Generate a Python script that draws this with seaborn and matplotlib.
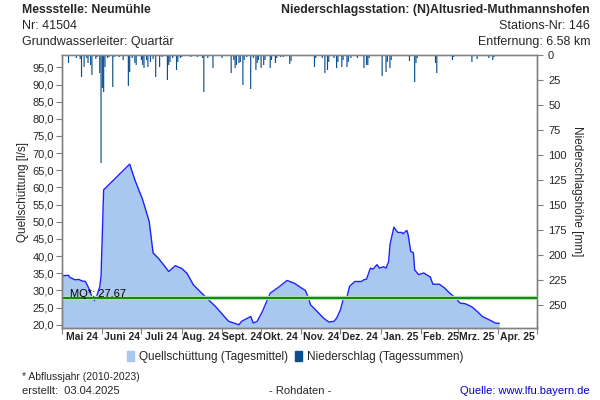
import matplotlib
matplotlib.use("Agg")
import matplotlib.pyplot as plt
import matplotlib.dates as mdates
from matplotlib.patches import Patch
import pandas as pd
import seaborn as sns

# Quellschüttung (Tagesmittel) [l/s]
flow_dates = [
    "2024-05-01", "2024-05-06", "2024-05-07", "2024-05-11", "2024-05-14", "2024-05-16",
    "2024-05-19", "2024-05-21", "2024-05-24", "2024-05-26", "2024-05-28", "2024-05-30",
    "2024-05-31", "2024-06-02", "2024-06-22", "2024-06-26", "2024-07-02", "2024-07-07",
    "2024-07-10", "2024-07-14", "2024-07-18", "2024-07-22", "2024-07-27", "2024-08-01",
    "2024-08-05", "2024-08-10", "2024-08-19", "2024-08-27", "2024-09-06", "2024-09-14",
    "2024-09-16", "2024-09-23", "2024-09-25", "2024-09-28", "2024-10-02", "2024-10-08",
    "2024-10-15", "2024-10-21", "2024-10-27", "2024-11-01", "2024-11-04", "2024-11-06",
    "2024-11-08", "2024-11-13", "2024-11-18", "2024-11-22", "2024-11-26", "2024-11-28",
    "2024-12-01", "2024-12-03", "2024-12-06", "2024-12-08", "2024-12-12", "2024-12-17",
    "2024-12-19", "2024-12-21", "2024-12-24", "2024-12-26", "2024-12-29", "2024-12-31",
    "2025-01-03", "2025-01-05", "2025-01-07", "2025-01-08", "2025-01-11", "2025-01-14",
    "2025-01-17", "2025-01-18", "2025-01-21", "2025-01-22", "2025-01-24", "2025-01-26",
    "2025-01-27", "2025-01-30", "2025-02-03", "2025-02-05", "2025-02-08", "2025-02-10",
    "2025-02-15", "2025-02-19", "2025-02-23", "2025-02-27", "2025-03-03", "2025-03-07",
    "2025-03-12", "2025-03-16", "2025-03-20", "2025-03-26", "2025-03-30", "2025-04-02",
]
flow_values = [
    34.3, 34.4, 33.8, 33.1, 33.2, 32.8,
    32.6, 31.1, 28.2, 27.0, 28.7, 31.1,
    34.1, 59.3, 66.8, 62.2, 56.4, 50.1,
    40.9, 39.4, 37.5, 35.5, 37.2, 36.4,
    35.0, 31.6, 28.2, 25.3, 21.0, 20.0,
    21.0, 22.4, 20.5, 21.0, 23.9, 29.2,
    31.1, 32.9, 32.0, 30.7, 30.0, 28.2,
    25.8, 23.9, 21.9, 20.8, 21.0, 21.9,
    24.4, 27.3, 28.2, 31.2, 32.6, 32.6,
    33.1, 33.3, 36.5, 36.2, 37.5, 36.5,
    36.9, 36.5, 38.4, 43.3, 48.4, 46.9,
    46.9, 46.5, 47.5, 46.2, 41.3, 41.0,
    36.0, 34.6, 35.1, 34.6, 33.9, 31.8,
    31.8, 30.7, 29.2, 27.9, 26.3, 26.1,
    25.2, 23.9, 22.4, 21.3, 20.5, 20.4,
]

# Niederschlag (Tagessummen) [mm]
rain_dates = [
    "2024-05-02", "2024-05-06", "2024-05-12", "2024-05-15", "2024-05-16", "2024-05-18",
    "2024-05-20", "2024-05-21", "2024-05-23", "2024-05-24", "2024-05-27", "2024-05-28",
    "2024-05-30", "2024-05-31", "2024-06-01", "2024-06-02", "2024-06-03", "2024-06-05",
    "2024-06-06", "2024-06-09", "2024-06-10", "2024-06-14", "2024-06-17", "2024-06-21",
    "2024-06-22", "2024-06-24", "2024-06-26", "2024-06-27", "2024-07-01", "2024-07-02",
    "2024-07-03", "2024-07-05", "2024-07-06", "2024-07-08", "2024-07-10", "2024-07-12",
    "2024-07-15", "2024-07-17", "2024-07-21", "2024-07-22", "2024-07-23", "2024-07-25",
    "2024-07-28", "2024-07-29", "2024-07-31", "2024-08-01", "2024-08-08", "2024-08-13",
    "2024-08-17", "2024-08-18", "2024-08-21", "2024-08-25", "2024-09-01", "2024-09-08",
    "2024-09-10", "2024-09-11", "2024-09-12", "2024-09-14", "2024-09-15", "2024-09-17",
    "2024-09-18", "2024-09-20", "2024-09-23", "2024-09-25", "2024-09-27", "2024-09-28",
    "2024-09-29", "2024-10-01", "2024-10-03", "2024-10-04", "2024-10-08", "2024-10-09",
    "2024-10-12", "2024-10-13", "2024-10-16", "2024-10-18", "2024-10-23", "2024-10-24",
    "2024-11-11", "2024-11-12", "2024-11-17", "2024-11-19", "2024-11-21", "2024-11-22",
    "2024-11-26", "2024-11-28", "2024-11-29", "2024-12-02", "2024-12-03", "2024-12-06",
    "2024-12-07", "2024-12-09", "2024-12-14", "2024-12-19", "2024-12-21", "2024-12-22",
    "2024-12-23", "2025-01-02", "2025-01-05", "2025-01-06", "2025-01-08", "2025-01-09",
    "2025-01-23", "2025-01-27", "2025-01-28", "2025-01-29", "2025-02-12", "2025-02-13",
    "2025-02-25", "2025-02-26", "2025-03-12", "2025-03-16", "2025-03-25", "2025-03-28",
    "2025-03-29",
]
rain_values = [
    1, 8, 3, 4, 22, 12,
    3, 8, 10, 20, 4, 2,
    18, 108, 33, 37, 12, 3,
    2, 32, 2, 2, 5, 31,
    17, 3, 8, 10, 5, 10,
    13, 5, 12, 7, 4, 22,
    12, 2, 25, 10, 7, 3,
    15, 7, 3, 2, 2, 2,
    3, 37, 3, 13, 3, 18,
    5, 13, 10, 8, 7, 30,
    5, 2, 34, 3, 15, 8,
    5, 13, 10, 5, 13, 5,
    8, 3, 2, 2, 9, 6,
    12, 3, 3, 18, 15, 7,
    3, 13, 7, 12, 5, 12,
    7, 3, 3, 13, 10, 10,
    3, 21, 17, 7, 13, 5,
    6, 27, 8, 3, 8, 18,
    5, 2, 7, 4, 3, 5,
    2,
]

month_labels = ["Mai 24", "Juni 24", "Juli 24", "Aug. 24", "Sept. 24", "Okt. 24",
                "Nov. 24", "Dez. 24", "Jan. 25", "Feb. 25", "Mrz. 25", "Apr. 25"]
mq_value = 27.67

flow = pd.DataFrame({"Datum": pd.to_datetime(flow_dates), "Q": flow_values})
rain = pd.DataFrame({"Datum": pd.to_datetime(rain_dates), "N": rain_values})

sns.set_theme(style="ticks")
plt.rcParams["font.family"] = ["Liberation Sans", "DejaVu Sans"]

fig = plt.figure(figsize=(6, 4), dpi=100)
ax = fig.add_axes([62 / 600, 72 / 400, 475 / 600, 273 / 400])

ax.fill_between(flow["Datum"], flow["Q"], 0, color="#a8c8f0", lw=0, zorder=1)
sns.lineplot(data=flow, x="Datum", y="Q", ax=ax, color="#2020ff", lw=1, zorder=2)
ax.axhline(mq_value, color="#b8e0b8", lw=3.2, zorder=3)
ax.axhline(mq_value, color="#138a13", lw=1.5, zorder=4)
ax.text(pd.Timestamp("2024-05-07"), mq_value + 0.5, "MQ*: 27.67", fontsize=8,
        color="black", zorder=5)

x0, x1 = pd.Timestamp("2024-05-01"), pd.Timestamp("2025-05-01")
ax.set_xlim(x0, x1)
ax.set_ylim(19.05, 98.6)
ax.set_yticks(range(20, 100, 5))
ax.set_yticklabels([f"{v:.1f}".replace(".", ",") for v in range(20, 100, 5)], fontsize=8)
ax.set_ylabel("Quellschüttung [l/s]", fontsize=8.5, labelpad=2)
ax.set_xlabel("")

ax.xaxis.set_major_locator(mdates.MonthLocator())
ax.xaxis.set_major_formatter(plt.NullFormatter())
mids = pd.date_range("2024-05-01", periods=12, freq="MS") + pd.Timedelta(days=15)
ax.set_xticks(mids, minor=True)
ax.set_xticklabels(month_labels, minor=True, fontsize=7.5, fontweight="bold")
ax.tick_params(axis="x", which="minor", length=0, pad=3)
ax.tick_params(axis="x", which="major", length=4, width=0.8, color="#808080")
ax.tick_params(axis="y", length=4, width=0.8, color="#808080", pad=2)

ax2 = ax.twinx()
ax2.bar(rain["Datum"], rain["N"], width=0.9, color="#0b4f8c", lw=0, snap=False)
ax2.set_ylim(273, 0)
ax2.set_yticks(range(0, 251, 25))
ax2.set_yticklabels([str(v) for v in range(0, 251, 25)], fontsize=8)
ax2.set_ylabel("Niederschlagshöhe [mm]", fontsize=8.5, rotation=270, labelpad=12)
ax2.tick_params(axis="y", length=4, width=0.8, color="#808080", pad=4)
ax2.set_xlim(x0, x1)

for a in (ax, ax2):
    for s in a.spines.values():
        s.set_color("#808080")
        s.set_linewidth(1)
ax.spines["top"].set_color("#b0b0b0")

# Kopfzeilen
fig.text(22 / 600, 1 - 10 / 400, "Messstelle: Neumühle", fontsize=8.8, fontweight="bold", va="center")
fig.text(22 / 600, 1 - 26 / 400, "Nr: 41504", fontsize=9, va="center")
fig.text(22 / 600, 1 - 42 / 400, "Grundwasserleiter: Quartär", fontsize=9, va="center")
fig.text(590 / 600, 1 - 10 / 400, "Niederschlagsstation: (N)Altusried-Muthmannshofen",
         fontsize=8.8, fontweight="bold", va="center", ha="right")
fig.text(590 / 600, 1 - 26 / 400, "Stations-Nr: 146", fontsize=9, va="center", ha="right")
fig.text(590 / 600, 1 - 42 / 400, "Entfernung: 6.58 km", fontsize=9, va="center", ha="right")

handles = [Patch(color="#a8c8f0", label="Quellschüttung (Tagesmittel)"),
           Patch(color="#0b4f8c", label="Niederschlag (Tagessummen)")]
fig.legend(handles=handles, loc="center", bbox_to_anchor=(295 / 600, 1 - 357 / 400),
           ncol=2, frameon=False, fontsize=8.5, handlelength=0.6, handleheight=0.9,
           handletextpad=0.4, columnspacing=0.6)

# Fußzeilen
fig.text(22 / 600, 1 - 377 / 400, "* Abflussjahr (2010-2023)", fontsize=7.5, va="center")
fig.text(22 / 600, 1 - 391 / 400, "erstellt:  03.04.2025", fontsize=8, va="center")
fig.text(300 / 600, 1 - 391 / 400, "- Rohdaten -", fontsize=8, va="center", ha="center")
fig.text(590 / 600, 1 - 391 / 400, "Quelle: www.lfu.bayern.de", fontsize=8, va="center",
         ha="right", color="#0000cc")

fig.savefig("out.png", dpi=100)
